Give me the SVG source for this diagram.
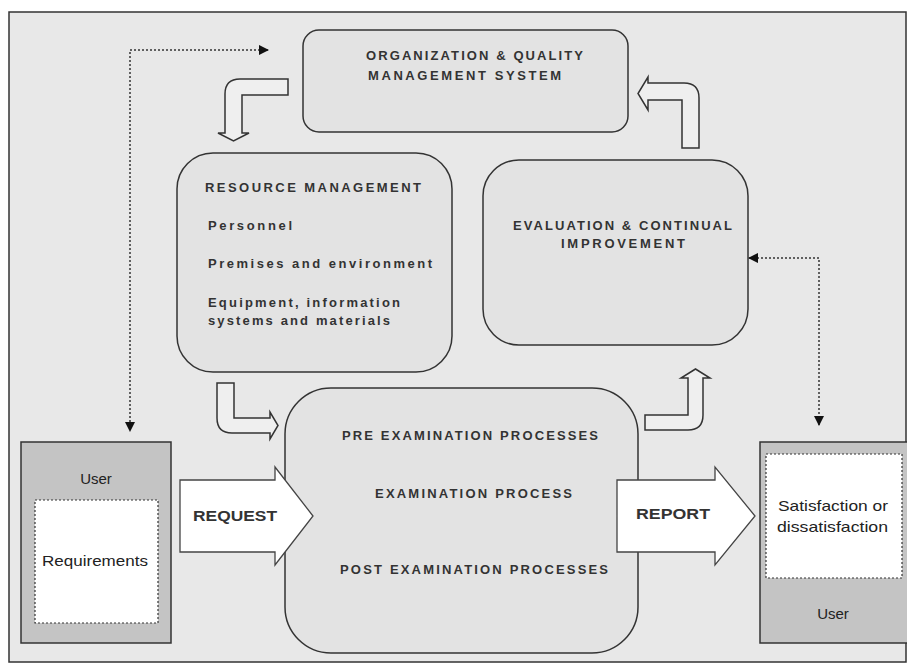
<svg xmlns="http://www.w3.org/2000/svg" width="907" height="664" viewBox="0 0 907 664">
<style>
.node{fill:#e3e3e3;stroke:#333;stroke-width:1.5}
.caps{font-family:"Liberation Sans",Arial,sans-serif;font-size:13px;font-weight:bold;fill:#333}
.lbl{font-family:"Liberation Sans",Arial,sans-serif;font-size:15px;fill:#222}
.big{font-family:"Liberation Sans",Arial,sans-serif;font-size:15px;font-weight:bold;fill:#333}
.hollow{fill:#efefef;stroke:#333;stroke-width:1.5}
.dot{fill:none;stroke:#333;stroke-width:1.5;stroke-dasharray:2,2}
.user{fill:#c4c4c4;stroke:#333;stroke-width:1.5}
.inner{fill:#fff;stroke:#333;stroke-width:1.2;stroke-dasharray:2,2}
.block{fill:#fff;stroke:#444;stroke-width:1.3}
</style>
<defs>
<marker id="tri" viewBox="0 0 10 10" refX="9" refY="5" markerWidth="7" markerHeight="7" orient="auto-start-reverse" markerUnits="strokeWidth">
<path d="M0,0 L10,5 L0,10 Z" fill="#111"/>
</marker>
</defs>
<rect x="0" y="0" width="907" height="664" fill="#fff"/>
<rect x="9" y="12" width="897" height="650" fill="#e8e8e8" stroke="#333" stroke-width="1.5"/>

<g id="org">
<rect class="node" x="303" y="30" width="325" height="102" rx="16"/>
<text class="caps" x="366" y="60" textLength="217" lengthAdjust="spacing">ORGANIZATION &amp; QUALITY</text>
<text class="caps" x="368" y="80" textLength="193" lengthAdjust="spacing">MANAGEMENT SYSTEM</text>
</g>

<g id="resource">
<rect class="node" x="177" y="153" width="275" height="219" rx="36"/>
<text class="caps" x="205" y="192" textLength="216" lengthAdjust="spacing">RESOURCE MANAGEMENT</text>
<text class="caps" x="208" y="230" textLength="84" lengthAdjust="spacing">Personnel</text>
<text class="caps" x="208" y="268" textLength="224" lengthAdjust="spacing">Premises and environment</text>
<text class="caps" x="208" y="307" textLength="192" lengthAdjust="spacing">Equipment, information</text>
<text class="caps" x="208" y="325" textLength="182" lengthAdjust="spacing">systems and materials</text>
</g>

<g id="evaluation">
<rect class="node" x="483" y="160" width="265" height="185" rx="36"/>
<text class="caps" x="513" y="230" textLength="219" lengthAdjust="spacing">EVALUATION &amp; CONTINUAL</text>
<text class="caps" x="561" y="248" textLength="124" lengthAdjust="spacing">IMPROVEMENT</text>
</g>

<g id="examination">
<rect class="node" x="285" y="388" width="353" height="265" rx="46"/>
<text class="caps" x="342" y="440" textLength="256" lengthAdjust="spacing">PRE EXAMINATION PROCESSES</text>
<text class="caps" x="375" y="498" textLength="197" lengthAdjust="spacing">EXAMINATION PROCESS</text>
<text class="caps" x="340" y="574" textLength="268" lengthAdjust="spacing">POST EXAMINATION PROCESSES</text>
</g>

<g id="user-left">
<rect class="user" x="21" y="442" width="150" height="201"/>
<text class="lbl" x="96" y="484" text-anchor="middle">User</text>
<rect class="inner" x="35" y="500" width="123" height="123"/>
<text class="lbl" x="42" y="566" textLength="106" lengthAdjust="spacingAndGlyphs">Requirements</text>
</g>

<g id="user-right">
<rect class="user" x="760" y="442" width="150" height="201"/>
<rect class="inner" x="766" y="454" width="136" height="124"/>
<text class="lbl" x="778" y="511" textLength="110" lengthAdjust="spacingAndGlyphs">Satisfaction or</text>
<text class="lbl" x="777" y="532" textLength="111" lengthAdjust="spacingAndGlyphs">dissatisfaction</text>
<text class="lbl" x="833" y="619" text-anchor="middle">User</text>
</g>

<g id="connectors">
<path class="hollow" d="M288,79 L240,79 Q225,79 225,94 L225,133 L218,133 L233.5,141 L249,133 L242,133 L242,95 L288,95 Z"/>
<path class="hollow" d="M682,148 L699,148 L699,98 Q699,83 684,83 L648,83 L648,77 L638,93.5 L648,110 L648,100 L682,100 Z"/>
<path class="hollow" d="M217,383 L234,383 L234,418 L270,418 L270,412 L278,425.5 L270,439 L270,433 L232,433 Q217,433 217,418 Z"/>
<path class="hollow" d="M645,415 L688,415 L688,378 L681,378 L695.5,369 L710,378 L703,378 L703,415 Q703,430 688,430 L645,430 Z"/>
<path class="dot" d="M268,50 L130,50 L130,431" marker-start="url(#tri)" marker-end="url(#tri)"/>
<path class="dot" d="M749,258 L819,258 L819,425" marker-start="url(#tri)" marker-end="url(#tri)"/>
<g id="request">
<polygon class="block" points="180,480 275,480 275,467 313,516 275,565 275,552 180,552"/>
<text class="big" x="193" y="521" textLength="84" lengthAdjust="spacingAndGlyphs">REQUEST</text>
</g>
<g id="report">
<polygon class="block" points="617,480 715,480 715,467 755,516 715,565 715,552 617,552"/>
<text class="big" x="636" y="519" textLength="74" lengthAdjust="spacingAndGlyphs">REPORT</text>
</g>
</g>
</svg>
